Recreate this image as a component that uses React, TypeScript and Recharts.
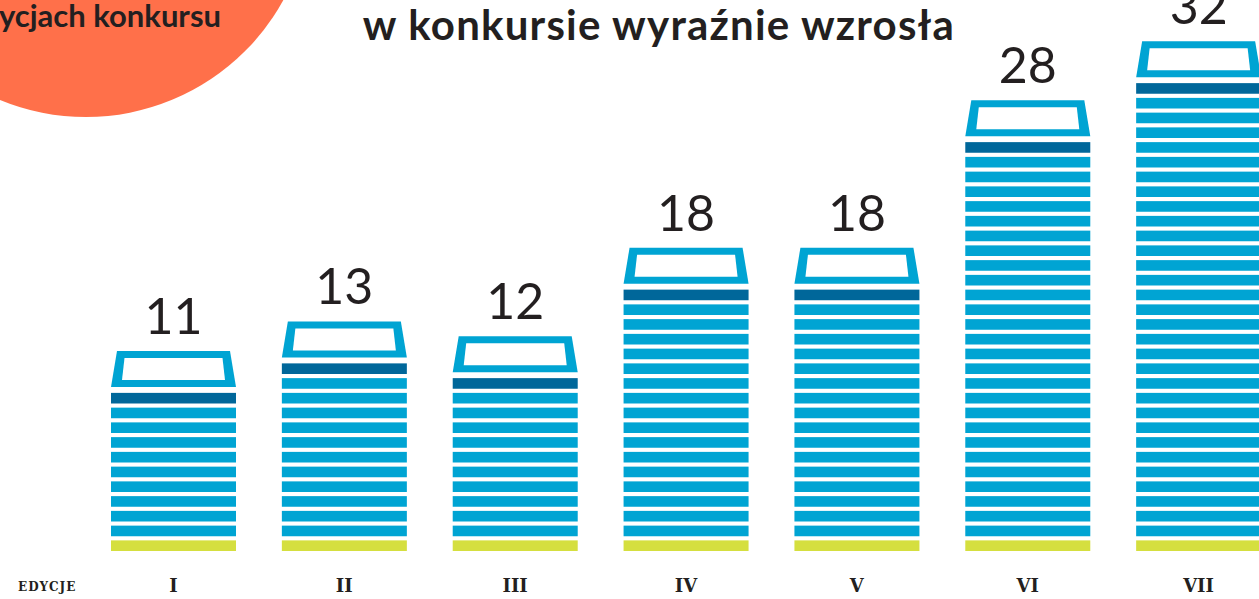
import { BarChart, Bar, XAxis, YAxis } from 'recharts'

const editions = ['I', 'II', 'III', 'IV', 'V', 'VI', 'VII']
const entries = [11, 13, 12, 18, 18, 28, 32]

const LIGHT = '#00a4d3'
const DARK = '#00679a'
const BASE = '#d5df3f'
const INK = '#231f20'

const data = editions.map((edition, i) => ({ edition, count: entries[i] }))

// one stack of "books": a stripe per entry, a tray on top and the number above it
function BookStack(props: any) {
  const { x, y, width, height, payload } = props
  const n: number = payload.count
  const unit = height / n
  const gap = unit * 0.28
  const bottom = y + height

  const stripes = []
  for (let k = 0; k < n; k++) {
    const fill = k === 0 ? BASE : k === n - 1 ? DARK : LIGHT
    stripes.push(
      <rect
        key={k}
        x={x}
        y={bottom - (k + 1) * unit + gap}
        width={width}
        height={unit - gap}
        fill={fill}
      />
    )
  }

  const trayBottom = y + gap - 6
  const trayTop = trayBottom - 36
  const outer = [
    [x, trayBottom],
    [x + width, trayBottom],
    [x + width - 6, trayTop],
    [x + 6, trayTop],
  ]
  const inner = [
    [x + 11, trayBottom - 7],
    [x + width - 11, trayBottom - 7],
    [x + width - 13.5, trayTop + 7],
    [x + 13.5, trayTop + 7],
  ]
  const pts = (p: number[][]) => p.map((q) => q.join(',')).join(' ')

  return (
    <g>
      {stripes}
      <polygon points={pts(outer)} fill={LIGHT} />
      <polygon points={pts(inner)} fill="#fff" />
      <text
        x={x + width / 2}
        y={trayTop - 17}
        textAnchor="middle"
        fontFamily="Lato"
        fontSize={50}
        fill={INK}
      >
        {n}
      </text>
    </g>
  )
}

function EditionTick(props: any) {
  const { x, payload } = props
  return (
    <text
      x={x}
      y={592}
      textAnchor="middle"
      fontFamily="DejaVu Serif"
      fontWeight="bold"
      fontSize={18}
      fill={INK}
    >
      {payload.value}
    </text>
  )
}

export default function App() {
  return (
    <div
      style={{
        position: 'relative',
        width: 1259,
        height: 599,
        overflow: 'hidden',
        background: '#fff',
        fontFamily: 'Lato',
      }}
    >
      <style>{'body{margin:0}'}</style>
      <div
        style={{
          position: 'absolute',
          left: 86 - 225,
          top: -108 - 225,
          width: 450,
          height: 450,
          borderRadius: '50%',
          background: '#ff704a',
        }}
      />
      <div
        style={{
          position: 'absolute',
          right: 1259 - 221,
          top: -2,
          fontSize: 31,
          lineHeight: '35px',
          fontWeight: 700,
          color: INK,
          whiteSpace: 'nowrap',
        }}
      >
        edycjach konkursu
      </div>
      <div
        style={{
          position: 'absolute',
          left: 0,
          width: 1318,
          top: -1,
          textAlign: 'center',
          fontSize: 42,
          lineHeight: '50px',
          letterSpacing: 1.2,
          fontWeight: 700,
          color: INK,
          whiteSpace: 'nowrap',
        }}
      >
        w konkursie wyraźnie wzrosła
      </div>
      <div
        style={{
          position: 'absolute',
          left: 18,
          top: 580,
          fontFamily: 'DejaVu Serif',
          fontWeight: 700,
          fontSize: 12,
          letterSpacing: 1,
          color: INK,
        }}
      >
        EDYCJE
      </div>
      <div style={{ position: 'absolute', left: 0, top: 0 }}>
        <BarChart
          width={1284}
          height={599}
          data={data}
          margin={{ top: 20, right: 0, bottom: 0, left: 88 }}
        >
          <XAxis
            dataKey="edition"
            axisLine={false}
            tickLine={false}
            height={48}
            tick={<EditionTick />}
            interval={0}
          />
          <YAxis hide domain={[0, 36]} />
          <Bar
            dataKey="count"
            barSize={125}
            shape={<BookStack />}
            isAnimationActive={false}
          />
        </BarChart>
      </div>
    </div>
  )
}
